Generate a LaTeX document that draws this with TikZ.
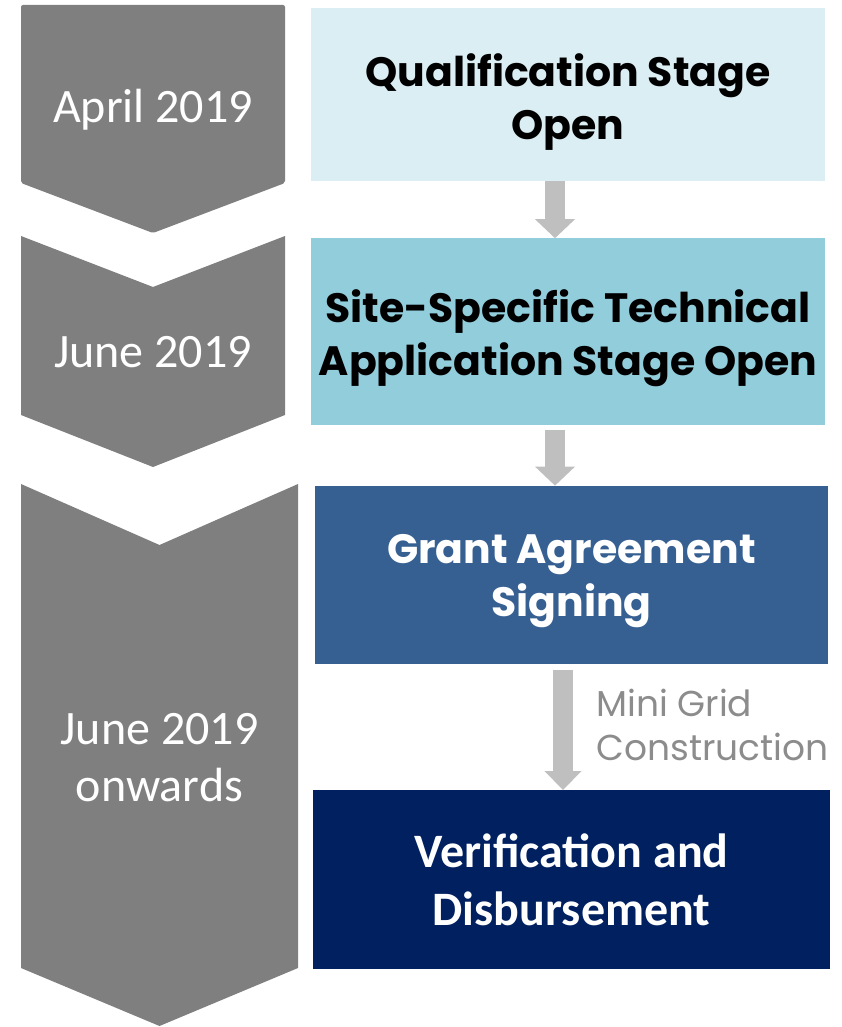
\documentclass[tikz,border=0pt]{standalone}
\usepackage{fontspec}
\usepackage{tikz}
\usetikzlibrary{positioning,arrows.meta}
\newfontfamily\carlito{Carlito}
\newfontfamily\gothic{Poppins}
\definecolor{chevgray}{HTML}{7F7F7F}
\definecolor{arrgray}{HTML}{BFBFBF}
\definecolor{qualblue}{HTML}{DBEEF3}
\definecolor{siteblue}{HTML}{92CDDC}
\definecolor{grantblue}{HTML}{376092}
\definecolor{verifnavy}{HTML}{002060}
\definecolor{labelgray}{HTML}{8C8C8C}
\tikzset{
  stagebox/.style={rectangle, inner sep=0pt, minimum width=514pt},
  stagetext/.style={align=center, font=\gothic\bfseries\fontsize{41}{53}\selectfont},
  datetext/.style={text=white, align=center, font=\carlito\fontsize{48}{57}\selectfont},
  flowarrow/.style={draw=arrgray, line width=20pt, -{Triangle[length=19pt,width=40pt,line width=0pt]}},
}

\begin{document}
\begin{tikzpicture}[x=1pt, y=-1pt]
    \useasboundingbox (0,0) rectangle (841,1027);

    % date chevrons
    \fill[chevgray, rounded corners=2pt] (21,5) -- (285,5) -- (285,183) -- (153,233) -- (21,183) -- cycle;
    \fill[chevgray] (21,236) -- (153,287) -- (285,236) -- (285,415) -- (153,467) -- (21,415) -- cycle;
    \fill[chevgray] (21,484) -- (159.5,545) -- (298,484) -- (298,968) -- (159.5,1026) -- (21,968) -- cycle;
    \node[datetext, anchor=base] (apr) at (153,123) {April 2019};
    \node[datetext, anchor=base] (jun) at (153,367) {June 2019};
    \node[datetext] (onw) at (159.5,758) {June 2019\\onwards};

    % stage boxes
    \node[stagebox, fill=qualblue, minimum height=173pt] (qual) at (568,94.5) {};
    \node[stagebox, fill=siteblue, minimum height=187pt, below=57pt of qual] (site) {};
    \node[stagebox, fill=grantblue, minimum width=513pt, minimum height=178pt, below=60pt of site, xshift=3.5pt] (grant) {};
    \node[stagebox, fill=verifnavy, minimum width=517pt, minimum height=179pt, below=126pt of grant] (verif) {};
    \node[stagetext, yshift=-8pt] (qualtext) at (qual) {Qualification Stage\\Open};
    \node[stagetext, yshift=-6pt] (sitetext) at (site) {Site-Specific Technical\\Application Stage Open};
    \node[stagetext, text=white, yshift=-6pt] (granttext) at (grant) {Grant Agreement\\Signing};
    \node[align=center, text=white, font=\carlito\bfseries\fontsize{48}{58}\selectfont] (veriftext) at (verif) {Verification and\\Disbursement};

    % arrows between stages
    \coordinate (a1) at ([xshift=-13pt]qual.south);
    \coordinate (a2) at ([xshift=-13pt]site.south);
    \coordinate (a3) at ([xshift=-8.5pt]grant.south);
    \draw[flowarrow] (a1) -- (a1 |- site.north);
    \draw[flowarrow] ([yshift=-4pt]a2) -- (a2 |- grant.north);
    \draw[flowarrow, -{Triangle[length=19pt,width=37pt,line width=0pt]}] ([yshift=-6pt]a3) -- (a3 |- verif.north)
        node[midway, anchor=west, xshift=20pt, yshift=5pt, align=left, text=labelgray, font=\gothic\fontsize{36}{44}\selectfont] (build) {Mini Grid\\Construction};
\end{tikzpicture}
\end{document}
